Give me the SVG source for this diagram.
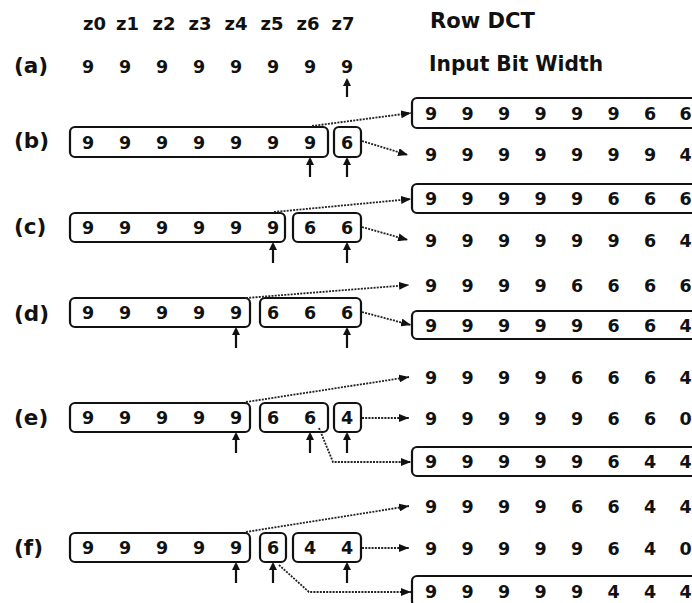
<svg xmlns="http://www.w3.org/2000/svg" width="692" height="603" viewBox="0 0 692 603">
<style>
.t{font-family:"DejaVu Sans","Liberation Sans",sans-serif;font-weight:bold;fill:#111}
.dg{font-size:17.5px;text-anchor:middle}
.lb{font-size:21.5px}
.zl{font-size:18px;text-anchor:middle}
.box{fill:none;stroke:#111;stroke-width:2.2}
.up{stroke:#111;stroke-width:2.2;fill:none;marker-end:url(#ah)}
.dot{fill:none;stroke:#222;stroke-width:1.8;stroke-dasharray:2 1.2;marker-end:url(#dh)}
</style>
<defs>
<marker id="ah" viewBox="0 0 8 8" markerWidth="8" markerHeight="8" markerUnits="userSpaceOnUse" refX="6" refY="4" orient="auto"><path d="M0,0 L8,4 L0,8 z" fill="#111"/></marker>
<marker id="dh" viewBox="0 0 10 8" markerWidth="10" markerHeight="8" markerUnits="userSpaceOnUse" refX="10" refY="4" orient="auto"><path d="M0,0 L10,4 L0,8 z" fill="#111"/></marker>
</defs>
<rect width="692" height="603" fill="#fff"/>

<g id="header">
<text class="t zl" x="94.5" y="30">z0</text>
<text class="t zl" x="127.5" y="30">z1</text>
<text class="t zl" x="164" y="30">z2</text>
<text class="t zl" x="200" y="30">z3</text>
<text class="t zl" x="236" y="30">z4</text>
<text class="t zl" x="272" y="30">z5</text>
<text class="t zl" x="308" y="30">z6</text>
<text class="t zl" x="343" y="30">z7</text>
<text class="t lb" x="430" y="28" textLength="105" lengthAdjust="spacingAndGlyphs">Row DCT</text>
<text class="t lb" x="429" y="71" textLength="174" lengthAdjust="spacingAndGlyphs">Input Bit Width</text>
</g>

<g id="row-a">
<text class="t lb" x="14" y="73">(a)</text>
<text class="t dg" x="88 125 162 199 236 273 310 347" y="72.5">99999999</text>
<path class="up" d="M347,97 L347,80"/>
</g>

<g id="row-b">
<text class="t lb" x="14" y="148">(b)</text>
<rect class="box" x="70" y="127" width="258" height="30" rx="5"/>
<rect class="box" x="334" y="127" width="27" height="30" rx="5"/>
<text class="t dg" x="88 125 162 199 236 273 310 347" y="148.5">99999996</text>
<path class="up" d="M310,177 L310,159"/>
<path class="up" d="M347,177 L347,159"/>
</g>
<g id="out-b1">
<rect class="box" x="412" y="98" width="300" height="30" rx="5"/>
<text class="t dg" x="431 467.5 504 540.5 577 613.5 650 685.5" y="119.5">99999966</text>
</g>
<g id="out-b2">
<text class="t dg" x="431 467.5 504 540.5 577 613.5 650 685.5" y="160.5">99999994</text>
</g>

<g id="row-c">
<text class="t lb" x="14" y="234">(c)</text>
<rect class="box" x="70" y="213" width="215" height="29" rx="5"/>
<rect class="box" x="293" y="213" width="68" height="29" rx="5"/>
<text class="t dg" x="88 125 162 199 236 273 310 347" y="234">99999966</text>
<path class="up" d="M273,263 L273,244"/>
<path class="up" d="M347,263 L347,244"/>
</g>
<g id="out-c1">
<rect class="box" x="412" y="184" width="300" height="29" rx="5"/>
<text class="t dg" x="431 467.5 504 540.5 577 613.5 650 685.5" y="205">99999666</text>
</g>
<g id="out-c2">
<text class="t dg" x="431 467.5 504 540.5 577 613.5 650 685.5" y="246.5">99999964</text>
</g>

<g id="row-d">
<text class="t lb" x="14" y="320.5">(d)</text>
<rect class="box" x="70" y="298" width="180" height="29" rx="5"/>
<rect class="box" x="260" y="298" width="101" height="29" rx="5"/>
<text class="t dg" x="88 125 162 199 236 273 310 347" y="319">99999666</text>
<path class="up" d="M236,348 L236,329"/>
<path class="up" d="M347,348 L347,329"/>
</g>
<g id="out-d1">
<text class="t dg" x="431 467.5 504 540.5 577 613.5 650 685.5" y="291.5">99996666</text>
</g>
<g id="out-d2">
<rect class="box" x="412" y="311" width="300" height="28" rx="5"/>
<text class="t dg" x="431 467.5 504 540.5 577 613.5 650 685.5" y="331.5">99999664</text>
</g>

<g id="row-e">
<text class="t lb" x="14" y="425">(e)</text>
<rect class="box" x="70" y="403" width="180" height="29" rx="5"/>
<rect class="box" x="260" y="403" width="68" height="29" rx="5"/>
<rect class="box" x="334" y="403" width="27" height="29" rx="5"/>
<text class="t dg" x="88 125 162 199 236 273 310 347" y="424">99999664</text>
<path class="up" d="M236,453 L236,434"/>
<path class="up" d="M310,453 L310,434"/>
<path class="up" d="M347,453 L347,434"/>
</g>
<g id="out-e1">
<text class="t dg" x="431 467.5 504 540.5 577 613.5 650 685.5" y="383.5">99996664</text>
</g>
<g id="out-e2">
<text class="t dg" x="431 467.5 504 540.5 577 613.5 650 685.5" y="424.5">99999660</text>
</g>
<g id="out-e3">
<rect class="box" x="412" y="447" width="300" height="29" rx="5"/>
<text class="t dg" x="431 467.5 504 540.5 577 613.5 650 685.5" y="468">99999644</text>
</g>

<g id="row-f">
<text class="t lb" x="14" y="555">(f)</text>
<rect class="box" x="70" y="533" width="180" height="29" rx="5"/>
<rect class="box" x="260" y="533" width="26" height="29" rx="5"/>
<rect class="box" x="293" y="533" width="68" height="29" rx="5"/>
<text class="t dg" x="88 125 162 199 236 273 310 347" y="554">99999644</text>
<path class="up" d="M236,583 L236,564"/>
<path class="up" d="M273,583 L273,564"/>
<path class="up" d="M347,583 L347,564"/>
</g>
<g id="out-f1">
<text class="t dg" x="431 467.5 504 540.5 577 613.5 650 685.5" y="512.5">99996644</text>
</g>
<g id="out-f2">
<text class="t dg" x="431 467.5 504 540.5 577 613.5 650 685.5" y="554.5">99999640</text>
</g>
<g id="out-f3">
<rect class="box" x="412" y="576" width="300" height="30" rx="5"/>
<text class="t dg" x="431 467.5 504 540.5 577 613.5 650 685.5" y="597.5">99999444</text>
</g>

<g id="connectors">
<path class="dot" d="M312,126 L411,113"/>
<path class="dot" d="M362,141 L408,155"/>
<path class="dot" d="M274,212 L411,199"/>
<path class="dot" d="M362,227 L408,240"/>
<path class="dot" d="M246,298 L409,285"/>
<path class="dot" d="M362,312 L411,325"/>
<path class="dot" d="M246,402 L409,377"/>
<path class="dot" d="M362,418 L409,418"/>
<path class="dot" d="M319,428 L333,462 L411,462"/>
<path class="dot" d="M246,532 L409,506"/>
<path class="dot" d="M362,548 L409,548"/>
<path class="dot" d="M279,565 L309,592 L411,592"/>
</g>
</svg>
